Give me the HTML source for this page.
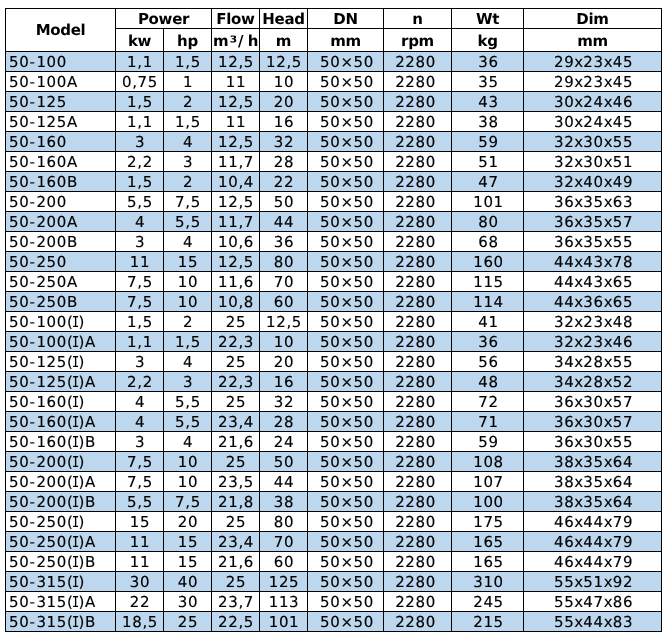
<!DOCTYPE html>
<html><head><meta charset="utf-8"><title>Pump table</title><style>
html,body{margin:0;padding:0;background:#fff;}
body{width:668px;height:641px;overflow:hidden;position:relative;}
table{will-change:transform;position:absolute;left:5px;top:8px;border-collapse:collapse;table-layout:fixed;width:657px;
 font-family:"DejaVu Sans","Liberation Sans",sans-serif;font-size:15px;color:#000;text-rendering:geometricPrecision;}
th,td{border:1px solid #000;padding:0;text-align:center;white-space:nowrap;overflow:hidden;}
th{font-weight:bold;letter-spacing:-0.3px;}
tr.h1 th{height:19px;}
tr.h2 th{padding-top:2px;height:20px;}
th.model{letter-spacing:-0.35px;padding-left:0px;}
td{height:19px;letter-spacing:0.65px;padding-left:1px;-webkit-text-stroke:0.15px #000;}
td.m{text-align:left;padding-left:3px;}
td.n{padding-right:4px;padding-left:0;}
tr.b td{background:#bdd7ee;}
tr.w td{background:#fff;}
th.m3{letter-spacing:1.2px;padding-left:1px;}
.s3{position:relative;top:1.5px;font-size:17px;letter-spacing:0.6px;}
.sl{letter-spacing:4.4px;}
.I{display:inline-block;font-family:"DejaVu Sans Mono",monospace;letter-spacing:0;width:9px;margin:0 -1.9px 0 -2.1px;transform:scaleX(0.8);}
.x{letter-spacing:0.1px;}
.hy{letter-spacing:1.6px;}
td.wt{padding-left:2px;}
td.dim{padding-left:2px;}
td.dn{padding-left:3px;}
</style></head><body>
<table>
<colgroup>
<col style="width:110px">
<col style="width:48px">
<col style="width:48px">
<col style="width:48px">
<col style="width:48px">
<col style="width:76px">
<col style="width:68px">
<col style="width:72px">
<col style="width:138px">
</colgroup>
<thead>
<tr class="h1"><th rowspan="2" class="model">Model</th><th colspan="2">Power</th><th>Flow</th><th>Head</th><th>DN</th><th>n</th><th>Wt</th><th>Dim</th></tr>
<tr class="h2"><th>kw</th><th>hp</th><th class="m3">m<span class="s3">&sup3;</span><span class="sl">/</span>h</th><th>m</th><th>mm</th><th>rpm</th><th>kg</th><th>mm</th></tr>
</thead>
<tbody>
<tr class="b"><td class="m">50<span class="hy">-</span>100</td><td>1,1</td><td>1,5</td><td>12,5</td><td>12,5</td><td class="dn">50&times;50</td><td class="n">2280</td><td class="wt">36</td><td class="dim">29<span class="x">x</span>23<span class="x">x</span>45</td></tr>
<tr class="w"><td class="m">50<span class="hy">-</span>100A</td><td>0,75</td><td>1</td><td>11</td><td>10</td><td class="dn">50&times;50</td><td class="n">2280</td><td class="wt">35</td><td class="dim">29<span class="x">x</span>23<span class="x">x</span>45</td></tr>
<tr class="b"><td class="m">50<span class="hy">-</span>125</td><td>1,5</td><td>2</td><td>12,5</td><td>20</td><td class="dn">50&times;50</td><td class="n">2280</td><td class="wt">43</td><td class="dim">30<span class="x">x</span>24<span class="x">x</span>46</td></tr>
<tr class="w"><td class="m">50<span class="hy">-</span>125A</td><td>1,1</td><td>1,5</td><td>11</td><td>16</td><td class="dn">50&times;50</td><td class="n">2280</td><td class="wt">38</td><td class="dim">30<span class="x">x</span>24<span class="x">x</span>45</td></tr>
<tr class="b"><td class="m">50<span class="hy">-</span>160</td><td>3</td><td>4</td><td>12,5</td><td>32</td><td class="dn">50&times;50</td><td class="n">2280</td><td class="wt">59</td><td class="dim">32<span class="x">x</span>30<span class="x">x</span>55</td></tr>
<tr class="w"><td class="m">50<span class="hy">-</span>160A</td><td>2,2</td><td>3</td><td>11,7</td><td>28</td><td class="dn">50&times;50</td><td class="n">2280</td><td class="wt">51</td><td class="dim">32<span class="x">x</span>30<span class="x">x</span>51</td></tr>
<tr class="b"><td class="m">50<span class="hy">-</span>160B</td><td>1,5</td><td>2</td><td>10,4</td><td>22</td><td class="dn">50&times;50</td><td class="n">2280</td><td class="wt">47</td><td class="dim">32<span class="x">x</span>40<span class="x">x</span>49</td></tr>
<tr class="w"><td class="m">50<span class="hy">-</span>200</td><td>5,5</td><td>7,5</td><td>12,5</td><td>50</td><td class="dn">50&times;50</td><td class="n">2280</td><td class="wt">101</td><td class="dim">36<span class="x">x</span>35<span class="x">x</span>63</td></tr>
<tr class="b"><td class="m">50<span class="hy">-</span>200A</td><td>4</td><td>5,5</td><td>11,7</td><td>44</td><td class="dn">50&times;50</td><td class="n">2280</td><td class="wt">80</td><td class="dim">36<span class="x">x</span>35<span class="x">x</span>57</td></tr>
<tr class="w"><td class="m">50<span class="hy">-</span>200B</td><td>3</td><td>4</td><td>10,6</td><td>36</td><td class="dn">50&times;50</td><td class="n">2280</td><td class="wt">68</td><td class="dim">36<span class="x">x</span>35<span class="x">x</span>55</td></tr>
<tr class="b"><td class="m">50<span class="hy">-</span>250</td><td>11</td><td>15</td><td>12,5</td><td>80</td><td class="dn">50&times;50</td><td class="n">2280</td><td class="wt">160</td><td class="dim">44<span class="x">x</span>43<span class="x">x</span>78</td></tr>
<tr class="w"><td class="m">50<span class="hy">-</span>250A</td><td>7,5</td><td>10</td><td>11,6</td><td>70</td><td class="dn">50&times;50</td><td class="n">2280</td><td class="wt">115</td><td class="dim">44<span class="x">x</span>43<span class="x">x</span>65</td></tr>
<tr class="b"><td class="m">50<span class="hy">-</span>250B</td><td>7,5</td><td>10</td><td>10,8</td><td>60</td><td class="dn">50&times;50</td><td class="n">2280</td><td class="wt">114</td><td class="dim">44<span class="x">x</span>36<span class="x">x</span>65</td></tr>
<tr class="w"><td class="m">50<span class="hy">-</span>100(<span class="I">I</span>)</td><td>1,5</td><td>2</td><td>25</td><td>12,5</td><td class="dn">50&times;50</td><td class="n">2280</td><td class="wt">41</td><td class="dim">32<span class="x">x</span>23<span class="x">x</span>48</td></tr>
<tr class="b"><td class="m">50<span class="hy">-</span>100(<span class="I">I</span>)A</td><td>1,1</td><td>1,5</td><td>22,3</td><td>10</td><td class="dn">50&times;50</td><td class="n">2280</td><td class="wt">36</td><td class="dim">32<span class="x">x</span>23<span class="x">x</span>46</td></tr>
<tr class="w"><td class="m">50<span class="hy">-</span>125(<span class="I">I</span>)</td><td>3</td><td>4</td><td>25</td><td>20</td><td class="dn">50&times;50</td><td class="n">2280</td><td class="wt">56</td><td class="dim">34<span class="x">x</span>28<span class="x">x</span>55</td></tr>
<tr class="b"><td class="m">50<span class="hy">-</span>125(<span class="I">I</span>)A</td><td>2,2</td><td>3</td><td>22,3</td><td>16</td><td class="dn">50&times;50</td><td class="n">2280</td><td class="wt">48</td><td class="dim">34<span class="x">x</span>28<span class="x">x</span>52</td></tr>
<tr class="w"><td class="m">50<span class="hy">-</span>160(<span class="I">I</span>)</td><td>4</td><td>5,5</td><td>25</td><td>32</td><td class="dn">50&times;50</td><td class="n">2280</td><td class="wt">72</td><td class="dim">36<span class="x">x</span>30<span class="x">x</span>57</td></tr>
<tr class="b"><td class="m">50<span class="hy">-</span>160(<span class="I">I</span>)A</td><td>4</td><td>5,5</td><td>23,4</td><td>28</td><td class="dn">50&times;50</td><td class="n">2280</td><td class="wt">71</td><td class="dim">36<span class="x">x</span>30<span class="x">x</span>57</td></tr>
<tr class="w"><td class="m">50<span class="hy">-</span>160(<span class="I">I</span>)B</td><td>3</td><td>4</td><td>21,6</td><td>24</td><td class="dn">50&times;50</td><td class="n">2280</td><td class="wt">59</td><td class="dim">36<span class="x">x</span>30<span class="x">x</span>55</td></tr>
<tr class="b"><td class="m">50<span class="hy">-</span>200(<span class="I">I</span>)</td><td>7,5</td><td>10</td><td>25</td><td>50</td><td class="dn">50&times;50</td><td class="n">2280</td><td class="wt">108</td><td class="dim">38<span class="x">x</span>35<span class="x">x</span>64</td></tr>
<tr class="w"><td class="m">50<span class="hy">-</span>200(<span class="I">I</span>)A</td><td>7,5</td><td>10</td><td>23,5</td><td>44</td><td class="dn">50&times;50</td><td class="n">2280</td><td class="wt">107</td><td class="dim">38<span class="x">x</span>35<span class="x">x</span>64</td></tr>
<tr class="b"><td class="m">50<span class="hy">-</span>200(<span class="I">I</span>)B</td><td>5,5</td><td>7,5</td><td>21,8</td><td>38</td><td class="dn">50&times;50</td><td class="n">2280</td><td class="wt">100</td><td class="dim">38<span class="x">x</span>35<span class="x">x</span>64</td></tr>
<tr class="w"><td class="m">50<span class="hy">-</span>250(<span class="I">I</span>)</td><td>15</td><td>20</td><td>25</td><td>80</td><td class="dn">50&times;50</td><td class="n">2280</td><td class="wt">175</td><td class="dim">46<span class="x">x</span>44<span class="x">x</span>79</td></tr>
<tr class="b"><td class="m">50<span class="hy">-</span>250(<span class="I">I</span>)A</td><td>11</td><td>15</td><td>23,4</td><td>70</td><td class="dn">50&times;50</td><td class="n">2280</td><td class="wt">165</td><td class="dim">46<span class="x">x</span>44<span class="x">x</span>79</td></tr>
<tr class="w"><td class="m">50<span class="hy">-</span>250(<span class="I">I</span>)B</td><td>11</td><td>15</td><td>21,6</td><td>60</td><td class="dn">50&times;50</td><td class="n">2280</td><td class="wt">165</td><td class="dim">46<span class="x">x</span>44<span class="x">x</span>79</td></tr>
<tr class="b"><td class="m">50<span class="hy">-</span>315(<span class="I">I</span>)</td><td>30</td><td>40</td><td>25</td><td>125</td><td class="dn">50&times;50</td><td class="n">2280</td><td class="wt">310</td><td class="dim">55<span class="x">x</span>51<span class="x">x</span>92</td></tr>
<tr class="w"><td class="m">50<span class="hy">-</span>315(<span class="I">I</span>)A</td><td>22</td><td>30</td><td>23,7</td><td>113</td><td class="dn">50&times;50</td><td class="n">2280</td><td class="wt">245</td><td class="dim">55<span class="x">x</span>47<span class="x">x</span>86</td></tr>
<tr class="b"><td class="m">50<span class="hy">-</span>315(<span class="I">I</span>)B</td><td>18,5</td><td>25</td><td>22,5</td><td>101</td><td class="dn">50&times;50</td><td class="n">2280</td><td class="wt">215</td><td class="dim">55<span class="x">x</span>44<span class="x">x</span>83</td></tr>
</tbody>
</table>
</body></html>
